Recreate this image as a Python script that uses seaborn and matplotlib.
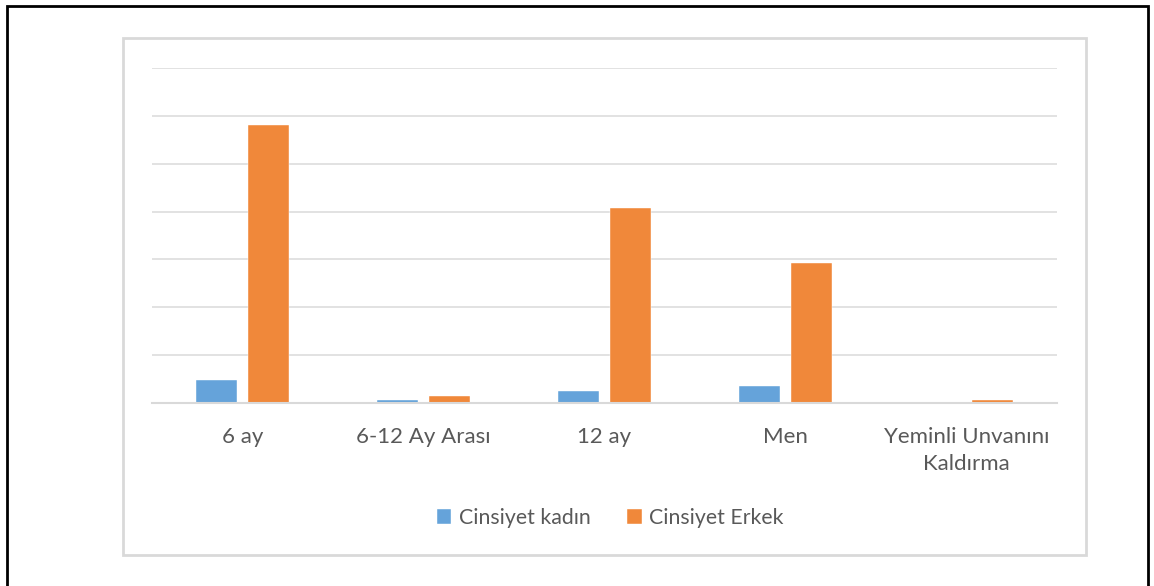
import matplotlib.pyplot as plt
import pandas as pd
import seaborn as sns
from matplotlib.patches import Rectangle

sns.set_style("white")
plt.rcParams['font.family'] = ['Lato', 'DejaVu Sans']

categories = ["6 ay", "6-12 Ay Arası", "12 ay", "Men", "Yeminli Unvanını\nKaldırma"]
kadin = [24, 3.5, 13, 18, 0]
erkek = [290, 7.5, 204, 146.5, 3.5]
series = ["Cinsiyet kadın", "Cinsiyet Erkek"]
colors = ["#65A3DA", "#F0883A"]

df = pd.DataFrame({
    "kategori": categories * 2,
    "deger": kadin + erkek,
    "seri": [series[0]] * len(categories) + [series[1]] * len(categories),
})

W, H = 1154, 586
fig = plt.figure(figsize=(W / 100, H / 100), dpi=100)
ax = fig.add_axes([152 / W, 1 - 403 / H, 905 / W, 335 / H])

sns.barplot(data=df, x="kategori", y="deger", hue="seri", palette=colors,
            width=0.575, gap=0.21, ax=ax, edgecolor="white", linewidth=0.3,
            saturation=1)

ax.set_ylim(0, 350)
ax.set_xlim(-0.5, 4.5)
ax.set_yticks(range(0, 351, 50))
ax.yaxis.grid(True, color="#DDDDDD", linewidth=1.2)
ax.set_axisbelow(True)
ax.set_yticklabels([])
ax.tick_params(axis="y", length=0)
ax.tick_params(axis="x", length=0, pad=17, labelsize=16, labelcolor="#595959")
for lbl in ax.get_xticklabels():
    lbl.set_linespacing(1.45)
for s in ["top", "left", "right"]:
    ax.spines[s].set_visible(False)
ax.spines["bottom"].set_color("#D9D9D9")
ax.spines["bottom"].set_linewidth(1.5)
ax.set_xlabel("")
ax.set_ylabel("")

handles, labels = ax.get_legend_handles_labels()
ax.get_legend().remove()
fig.legend(handles, labels, loc="center", bbox_to_anchor=(610 / W, 1 - 518 / H),
           ncol=2, frameon=False, fontsize=15.3, labelcolor="#595959",
           handlelength=0.7, handleheight=0.7, handletextpad=0.35, columnspacing=1.7)

# chart area frame and outer border
fig.add_artist(Rectangle((123 / W, 1 - 555 / H), 963 / W, 517 / H,
                         transform=fig.transFigure, fill=False,
                         edgecolor="#D9D9D9", linewidth=2))
fig.add_artist(Rectangle((6.5 / W, -0.05), 1141.5 / W, 1.05 - 5.5 / H,
                         transform=fig.transFigure, fill=False,
                         edgecolor="black", linewidth=2))

fig.savefig("out.png", dpi=100)
